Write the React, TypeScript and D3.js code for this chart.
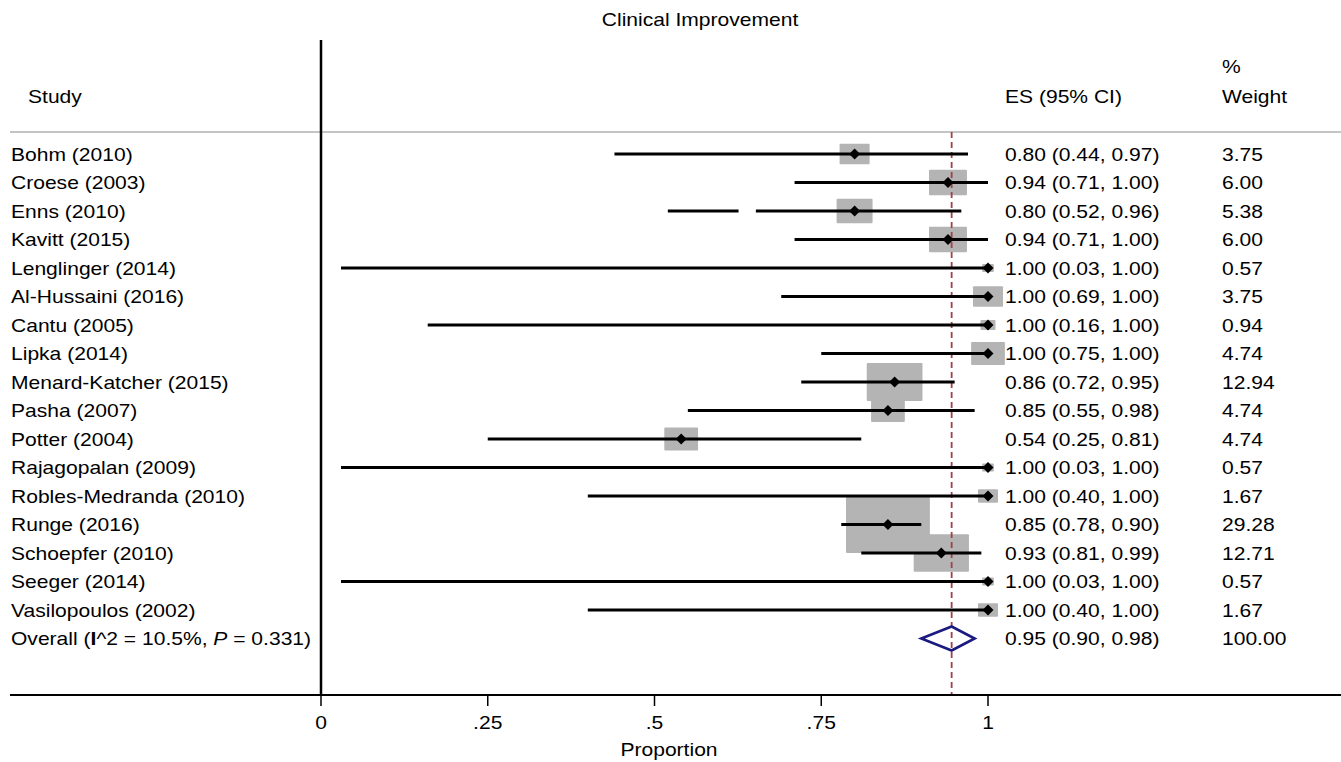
import React from "react";
import * as d3 from "d3";

const studies = [
  "Bohm (2010)", "Croese (2003)", "Enns (2010)", "Kavitt (2015)", "Lenglinger (2014)",
  "Al-Hussaini (2016)", "Cantu (2005)", "Lipka (2014)", "Menard-Katcher (2015)", "Pasha (2007)",
  "Potter (2004)", "Rajagopalan (2009)", "Robles-Medranda (2010)", "Runge (2016)",
  "Schoepfer (2010)", "Seeger (2014)", "Vasilopoulos (2002)",
];
const es = [0.80, 0.94, 0.80, 0.94, 1.00, 1.00, 1.00, 1.00, 0.86, 0.85, 0.54, 1.00, 1.00, 0.85, 0.93, 1.00, 1.00];
const lo = [0.44, 0.71, 0.52, 0.71, 0.03, 0.69, 0.16, 0.75, 0.72, 0.55, 0.25, 0.03, 0.40, 0.78, 0.81, 0.03, 0.40];
const hi = [0.97, 1.00, 0.96, 1.00, 1.00, 1.00, 1.00, 1.00, 0.95, 0.98, 0.81, 1.00, 1.00, 0.90, 0.99, 1.00, 1.00];
const weights = [3.75, 6.00, 5.38, 6.00, 0.57, 3.75, 0.94, 4.74, 12.94, 4.74, 4.74, 0.57, 1.67, 29.28, 12.71, 0.57, 1.67];
// gap in the Enns CI line as drawn in the reference
const ennsGap = [0.626, 0.652];
// overall estimate (drawn at its unrounded position, labelled rounded)
const overall = { es: 0.9455, lo: 0.90, hi: 0.98, label: "0.95 (0.90, 0.98)", weight: "100.00" };
const ticks = [0, 0.25, 0.5, 0.75, 1];
const tickLabels = ["0", ".25", ".5", ".75", "1"];

const fmt = (v: number) => v.toFixed(2);
const SX = 1.17;

function T({ x, y, anchor = "start", children }: { x: number; y: number; anchor?: string; children: React.ReactNode }) {
  return (
    <text transform={`translate(${x},${y}) scale(${SX},1)`} textAnchor={anchor}>
      {children}
    </text>
  );
}

export default function App() {
  const W = 1341, H = 762;
  const x = d3.scaleLinear().domain([0, 1]).range([321, 988]);
  const y = d3.scaleLinear().domain([0, 16]).range([154, 610]);
  const overallY = y(17);
  const font = "'Liberation Sans', Arial, Helvetica, sans-serif";
  const fs = 18;
  const diamondPath = (cx: number, cy: number, r: number) =>
    `M${cx - r},${cy}L${cx},${cy - r}L${cx + r},${cy}L${cx},${cy + r}Z`;

  return (
    <svg width={W} height={H} style={{ position: "absolute", left: 0, top: 0, background: "#fff" }}
      fontFamily={font} fontSize={fs}>
      <rect x={0} y={0} width={W} height={H} fill="#fff" />
      <T x={700} y={26} anchor="middle">Clinical Improvement</T>
      <T x={28} y={103}>Study</T>
      <T x={1005} y={103}>ES (95% CI)</T>
      <T x={1222} y={73}>%</T>
      <T x={1222} y={103}>Weight</T>
      <line x1={10} x2={W} y1={132} y2={132} stroke="#c4c4c4" strokeWidth={2} />

      {/* boxes */}
      {weights.map((w, i) => {
        const bw = 15.5 * Math.sqrt(w), bh = 10.5 * Math.sqrt(w);
        return <rect key={"b" + i} x={x(es[i]) - bw / 2} y={y(i) - bh / 2} width={bw} height={bh} rx={1} fill="#b4b4b4" />;
      })}

      {/* reference line */}
      <line x1={x(overall.es)} x2={x(overall.es)} y1={132} y2={695} stroke="#a0404a" strokeWidth={1.8} strokeDasharray="6,4" />

      {/* CI lines */}
      {studies.map((s, i) =>
        i === 2 ? (
          <g key={"l" + i}>
            <line x1={x(lo[i])} x2={x(ennsGap[0])} y1={y(i)} y2={y(i)} stroke="#000" strokeWidth={2.8} />
            <line x1={x(ennsGap[1])} x2={x(hi[i])} y1={y(i)} y2={y(i)} stroke="#000" strokeWidth={2.8} />
          </g>
        ) : (
          <line key={"l" + i} x1={x(lo[i])} x2={x(hi[i])} y1={y(i)} y2={y(i)} stroke="#000" strokeWidth={2.8} />
        )
      )}
      {studies.map((s, i) => (
        <path key={"p" + i} d={diamondPath(x(es[i]), y(i), 5.5)} fill="#000" />
      ))}

      {/* overall diamond */}
      <path d={`M${x(overall.lo)},${overallY}L${x(overall.es)},${overallY - 12}L${x(overall.hi)},${overallY}L${x(overall.es)},${overallY + 12}Z`}
        fill="none" stroke="#1a1a80" strokeWidth={2.6} />

      {/* labels */}
      {studies.map((s, i) => (
        <g key={"t" + i}>
          <T x={11} y={y(i) + 6.5}>{s}</T>
          <T x={1005} y={y(i) + 6.5}>{`${fmt(es[i])} (${fmt(lo[i])}, ${fmt(hi[i])})`}</T>
          <T x={1222} y={y(i) + 6.5}>{fmt(weights[i])}</T>
        </g>
      ))}
      <T x={11} y={overallY + 6.5}>
        Overall (<tspan fontWeight="bold">I</tspan>^2 = 10.5%, <tspan fontStyle="italic">P</tspan> = 0.331)
      </T>
      <T x={1005} y={overallY + 6.5}>{overall.label}</T>
      <T x={1222} y={overallY + 6.5}>{overall.weight}</T>

      {/* axes */}
      <line x1={321} x2={321} y1={40} y2={695} stroke="#000" strokeWidth={2.5} />
      <line x1={10} x2={W} y1={695} y2={695} stroke="#000" strokeWidth={2} />
      {ticks.map((t, i) => (
        <g key={"k" + i}>
          <line x1={x(t)} x2={x(t)} y1={695} y2={706} stroke="#000" strokeWidth={1.5} />
          <T x={x(t)} y={729} anchor="middle">{tickLabels[i]}</T>
        </g>
      ))}
      <T x={669} y={756} anchor="middle">Proportion</T>
    </svg>
  );
}
